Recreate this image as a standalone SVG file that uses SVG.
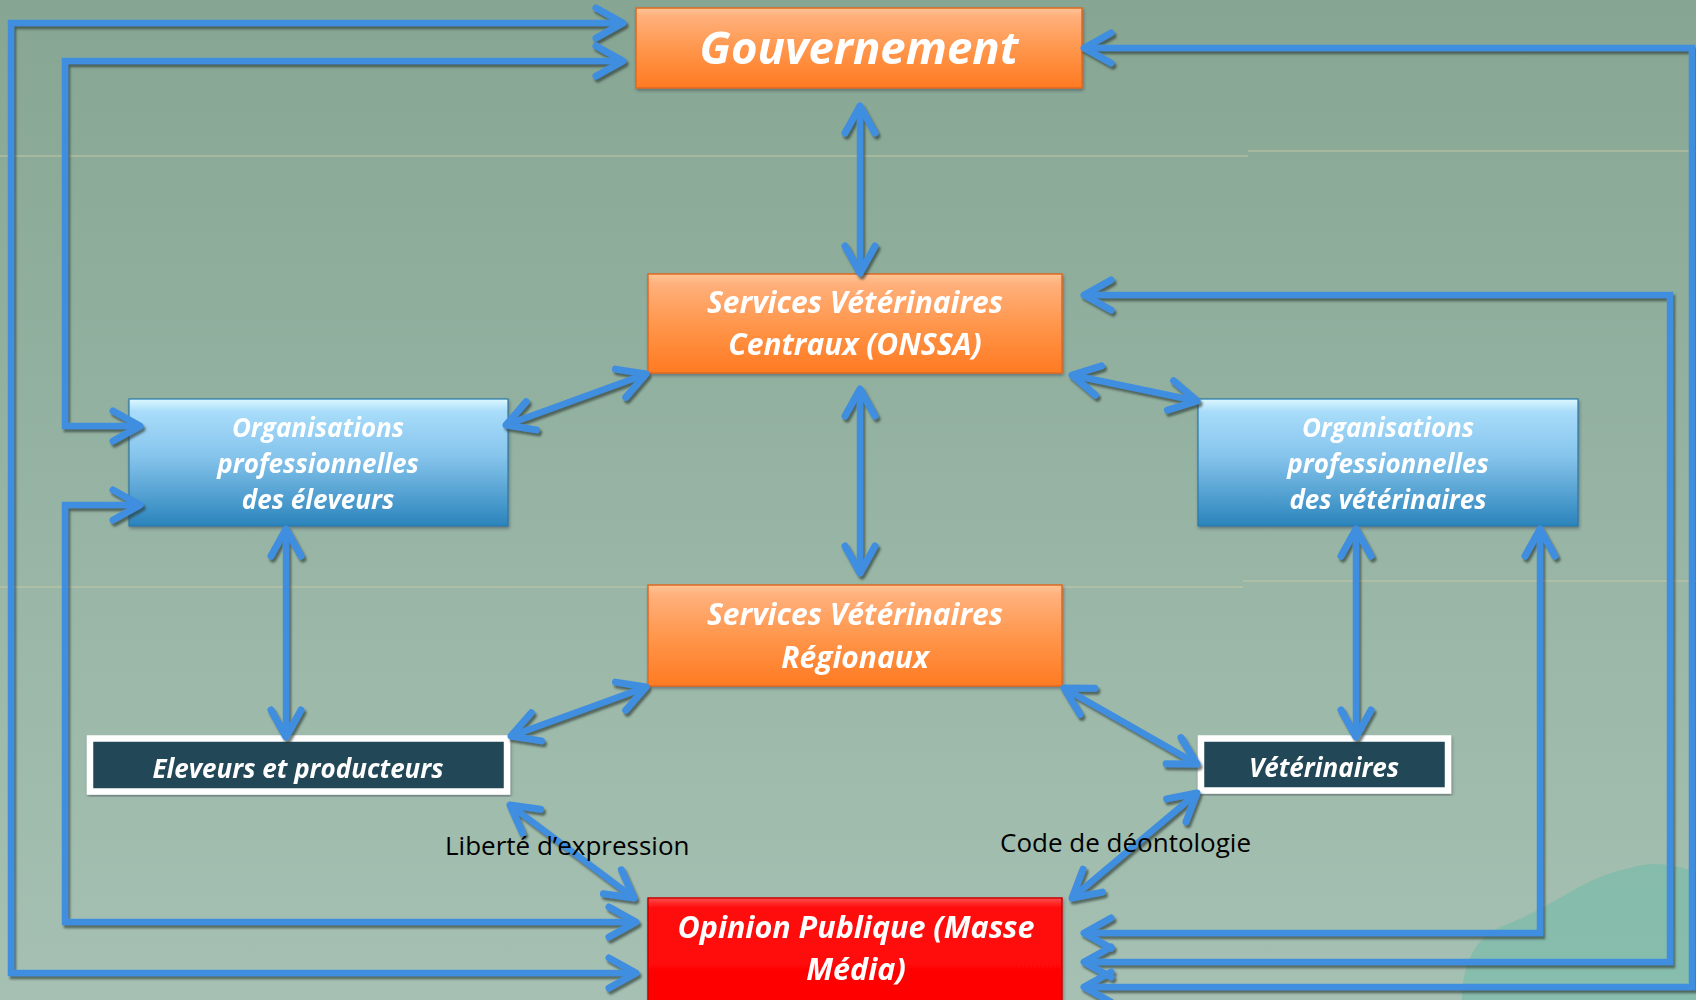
<svg xmlns="http://www.w3.org/2000/svg" width="1696" height="1000" viewBox="0 0 1696 1000">
<defs>
<style>
.t{font-family:"Open Sans","Noto Sans","Liberation Sans",sans-serif;font-weight:bold;font-style:italic;fill:#ffffff;text-anchor:middle}
.lbl{font-family:"Open Sans","Noto Sans","Liberation Sans",sans-serif;font-size:26px;fill:#000000}
.c{fill:none;stroke:#3f8ee0;stroke-width:6.5;stroke-linejoin:miter;marker-start:url(#ah);marker-end:url(#ah)}
.fl{stroke:#d9d2a8;stroke-width:1.2;opacity:0.7}
</style>
<linearGradient id="bg" x1="0" y1="0" x2="0" y2="1">
<stop offset="0" stop-color="#86a693"/>
<stop offset="1" stop-color="#a6c1b3"/>
</linearGradient>
<linearGradient id="org" x1="0" y1="0" x2="0" y2="1">
<stop offset="0" stop-color="#ffc596"/>
<stop offset="0.1" stop-color="#ffb07c"/>
<stop offset="0.55" stop-color="#ff9448"/>
<stop offset="1" stop-color="#ff7a22"/>
</linearGradient>
<linearGradient id="blu" x1="0" y1="0" x2="0" y2="1">
<stop offset="0" stop-color="#dcf8ff"/>
<stop offset="0.1" stop-color="#a8dcfa"/>
<stop offset="0.45" stop-color="#86c4ec"/>
<stop offset="1" stop-color="#2a84bc"/>
</linearGradient>
<linearGradient id="red" x1="0" y1="0" x2="0" y2="1">
<stop offset="0" stop-color="#ff5050"/>
<stop offset="0.08" stop-color="#ff1010"/>
<stop offset="1" stop-color="#ff0000"/>
</linearGradient>
<filter id="sh" x="-5%" y="-5%" width="110%" height="110%">
<feDropShadow dx="2" dy="3" stdDeviation="0.8" flood-color="#2a3a34" flood-opacity="0.65"/>
</filter>
<filter id="bsh" x="-5%" y="-5%" width="110%" height="115%">
<feDropShadow dx="1" dy="2" stdDeviation="1.5" flood-color="#334" flood-opacity="0.45"/>
</filter>
<marker id="ah" viewBox="-34 -20 40 40" markerWidth="40" markerHeight="40" refX="0" refY="0" orient="auto-start-reverse" markerUnits="userSpaceOnUse">
<path d="M-27,-15 L0,0 L-27,15" fill="none" stroke="#3f8ee0" stroke-width="7" stroke-linejoin="round" stroke-linecap="round"/>
</marker>
</defs>

<rect x="0" y="0" width="1696" height="1000" fill="url(#bg)"/>
<line class="fl" x1="0" y1="156" x2="1248" y2="156"/>
<line class="fl" x1="1248" y1="151" x2="1696" y2="151"/>
<line class="fl" x1="0" y1="587" x2="1243" y2="587"/>
<line class="fl" x1="1243" y1="581" x2="1696" y2="581"/>
<path d="M1462,1000 C1462,960 1478,935 1505,925 C1530,915 1548,905 1565,895 C1590,880 1610,872 1630,868 C1655,860 1675,865 1696,872 L1696,1000 Z" fill="#6fbaa7" opacity="0.55"/>

<g id="gouvernement" filter="url(#bsh)">
<rect x="636" y="8" width="446" height="80" fill="url(#org)" stroke="#df6a20" stroke-width="1.5"/>
<text class="t" x="859" y="64" font-size="45.500">Gouvernement</text>
</g>

<g id="services-centraux" filter="url(#bsh)">
<rect x="648" y="274" width="414" height="99" fill="url(#org)" stroke="#df6a20" stroke-width="1.5"/>
<text class="t" x="855" y="313" font-size="30">Services Vétérinaires</text>
<text class="t" x="855" y="355" font-size="30">Centraux (ONSSA)</text>
</g>

<g id="services-regionaux" filter="url(#bsh)">
<rect x="648" y="585" width="414" height="101" fill="url(#org)" stroke="#df6a20" stroke-width="1.5"/>
<text class="t" x="855" y="625" font-size="30">Services Vétérinaires</text>
<text class="t" x="855" y="668" font-size="30">Régionaux</text>
</g>

<g id="opinion-publique" filter="url(#bsh)">
<rect x="648" y="898" width="414" height="110" fill="url(#red)" stroke="#c80000" stroke-width="1.5"/>
<text class="t" x="856" y="938" font-size="30.500">Opinion Publique (Masse</text>
<text class="t" x="856" y="980" font-size="30.500">Média)</text>
</g>

<g id="org-eleveurs" filter="url(#bsh)">
<rect x="129" y="399" width="379" height="127" fill="url(#blu)" stroke="#2a78a8" stroke-width="1.2"/>
<text class="t" x="318" y="437" font-size="26">Organisations</text>
<text class="t" x="318" y="473" font-size="26">professionnelles</text>
<text class="t" x="318" y="509" font-size="26">des éleveurs</text>
</g>

<g id="org-veterinaires" filter="url(#bsh)">
<rect x="1198" y="399" width="380" height="127" fill="url(#blu)" stroke="#2a78a8" stroke-width="1.2"/>
<text class="t" x="1388" y="437" font-size="26">Organisations</text>
<text class="t" x="1388" y="473" font-size="26">professionnelles</text>
<text class="t" x="1388" y="509" font-size="26">des vétérinaires</text>
</g>

<g id="eleveurs" filter="url(#bsh)">
<rect x="90" y="738.500" width="417" height="53" fill="#234756" stroke="#ffffff" stroke-width="6.5"/>
<text class="t" x="298" y="778" font-size="26">Eleveurs et producteurs</text>
</g>

<g id="veterinaires" filter="url(#bsh)">
<rect x="1201" y="738.500" width="247" height="52" fill="#234756" stroke="#ffffff" stroke-width="6.5"/>
<text class="t" x="1324" y="777" font-size="26">Vétérinaires</text>
</g>

<g id="connectors" filter="url(#sh)">
<path class="c" d="M623,23 L11,23 L11,973 L636,973"/>
<path class="c" d="M623,61 L65,61 L65,426 L140,426"/>
<path class="c" d="M140,505 L65,505 L65,922 L636,922"/>
<path class="c" d="M1084,48 L1692,48 L1692,987 L1084,987"/>
<path class="c" d="M1084,295 L1670,295 L1670,962 L1084,962"/>
<path class="c" d="M1540,529 L1540,933 L1084,933"/>
<path class="c" d="M860,106 L860,273"/>
<path class="c" d="M860,389 L860,573"/>
<path class="c" d="M286,529 L286,737"/>
<path class="c" d="M1356,529 L1356,737"/>
<path class="c" d="M506,425 L646,374"/>
<path class="c" d="M1072,375 L1197,401"/>
<path class="c" d="M511,736 L646,687"/>
<path class="c" d="M1064,688 L1197,764"/>
<path class="c" d="M510,805 L634,898"/>
<path class="c" d="M1197,793 L1072,898"/>
</g>

<g id="labels">
<text class="lbl" x="445" y="855">Liberté d’expression</text>
<text class="lbl" x="1000" y="852">Code de déontologie</text>
</g>
</svg>
